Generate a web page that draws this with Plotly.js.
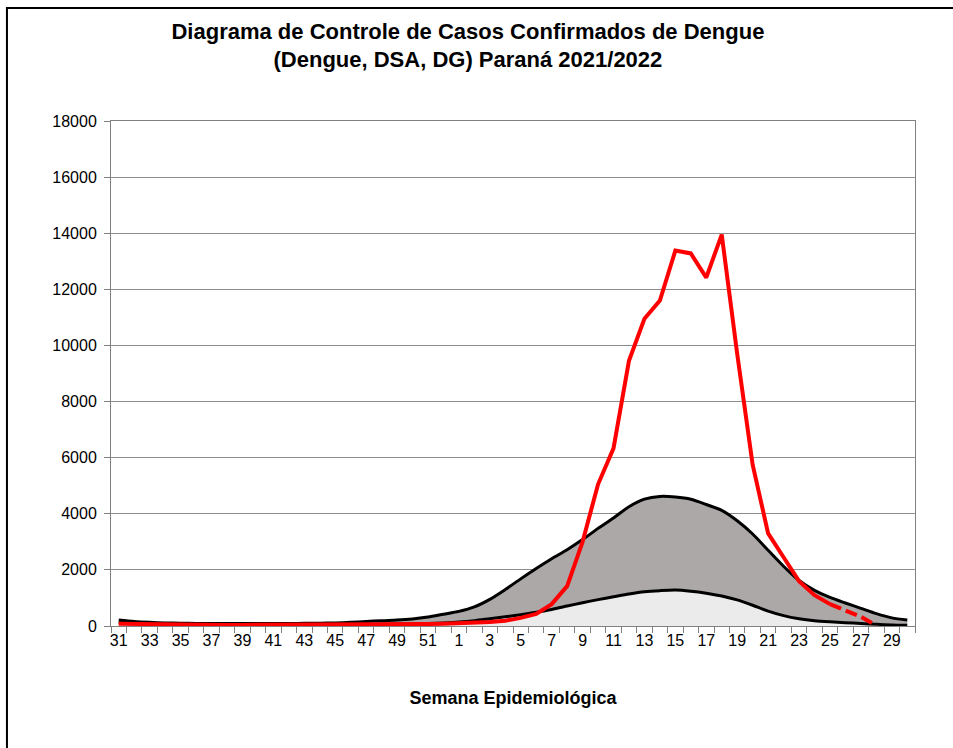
<!DOCTYPE html>
<html>
<head>
<meta charset="utf-8">
<script src="https://cdn.plot.ly/plotly-3.0.1.min.js"></script>
<style>html,body{margin:0;padding:0;background:#fff;}#chart{width:953px;height:748px;}</style>
</head>
<body>
<div id="chart"></div>
<script>
// Semana epidemiológica 31/2021 .. 30/2022
const weeks = ["31","32","33","34","35","36","37","38","39","40","41","42","43","44","45","46","47","48","49","50","51","52",
  "1","2","3","4","5","6","7","8","9","10","11","12","13","14","15","16","17","18","19","20","21","22","23","24","25","26","27","28","29","30"];

// Limite inferior (área clara)
const lowerLimit = [120,90,70,60,50,50,50,50,50,50,50,50,50,50,50,52,55,60,70,80,90,110,
  140,190,260,330,400,490,590,710,830,940,1040,1140,1220,1260,1280,1240,1170,1070,930,740,530,370,260,190,150,120,90,60,40,30];

// Limite superior (área escura)
const upperLimit = [210,160,130,110,100,90,90,90,90,90,90,90,95,100,110,130,160,190,210,250,320,420,
  520,680,950,1300,1680,2050,2400,2720,3080,3480,3850,4250,4520,4620,4600,4520,4330,4120,3750,3280,2700,2130,1620,1270,1020,820,630,440,290,210];

// Casos confirmados 2021/2022
const cases = [80,70,60,55,50,45,45,40,40,40,40,40,40,40,45,45,50,55,60,65,70,80,
  90,110,140,190,290,430,780,1420,3000,5050,6330,9450,10950,11600,13380,13280,12420,13950,9700,5750,3300,2450,1600,1100,780,560,330,20,null,null];

// Última semana com dados consolidados (linha contínua até aqui, tracejada depois)
const lastSolidWeek = "25";

const tickText = weeks.map((w, i) => (i % 2 === 0 ? w : ""));
const cut = weeks.indexOf(lastSolidWeek);
const solidCases = cases.map((v, i) => (i <= cut ? v : null));
const dashCases = cases.map((v, i) => (i >= cut ? v : null));

const FONT = "Liberation Sans, Arial, sans-serif";

const traces = [
  {
    x: weeks, y: lowerLimit, type: "scatter", mode: "lines",
    line: {color: "#000000", width: 3, shape: "spline", smoothing: 0.8},
    fill: "tozeroy", fillcolor: "#ebebeb", hoverinfo: "skip"
  },
  {
    x: weeks, y: upperLimit, type: "scatter", mode: "lines",
    line: {color: "#000000", width: 3, shape: "spline", smoothing: 0.8},
    fill: "tonexty", fillcolor: "#aca8a8", hoverinfo: "skip"
  },
  {
    x: weeks, y: solidCases, type: "scatter", mode: "lines",
    line: {color: "#ff0000", width: 4}, connectgaps: false
  },
  {
    x: weeks, y: dashCases, type: "scatter", mode: "lines",
    line: {color: "#ff0000", width: 4, dash: "12px,5px"}, connectgaps: false
  }
];

const layout = {
  width: 953, height: 748,
  margin: {l: 111, r: 38, t: 121, b: 122},
  paper_bgcolor: "#ffffff", plot_bgcolor: "#ffffff",
  showlegend: false,
  font: {family: FONT, size: 16, color: "#000000"},
  title: {
    text: "<b>Diagrama de Controle de Casos Confirmados de Dengue<br>(Dengue, DSA, DG) Paraná 2021/2022</b>",
    font: {family: FONT, size: 22, color: "#000000"},
    x: 0.491, xref: "container", xanchor: "center",
    y: 0.948, yref: "container", yanchor: "top"
  },
  xaxis: {
    type: "category",
    range: [-0.5, weeks.length - 0.5],
    tickmode: "array", tickvals: weeks, ticktext: tickText,
    tickson: "boundaries", ticks: "outside", ticklen: 6, tickcolor: "#808080",
    tickangle: 0,
    showline: true, linecolor: "#808080", linewidth: 1, mirror: true,
    showgrid: false, zeroline: false,
    tickfont: {family: FONT, size: 16, color: "#000000"},
    title: {text: "<b>Semana Epidemiológica</b>", standoff: 43,
      font: {family: FONT, size: 18, color: "#000000"}}
  },
  yaxis: {
    range: [0, 18000], dtick: 2000, tick0: 0, tickformat: "d",
    ticks: "outside", ticklen: 6, tickcolor: "#808080",
    ticklabelstandoff: 4,
    showline: true, linecolor: "#808080", linewidth: 1, mirror: true,
    showgrid: true, gridcolor: "#8c8c8c", gridwidth: 1,
    zeroline: false,
    tickfont: {family: FONT, size: 16, color: "#000000"}
  },
  shapes: [
    {type: "rect", xref: "paper", yref: "paper",
     x0: -0.1294, x1: 1.08, y0: -0.4, y1: 1.2238,
     line: {color: "#000000", width: 2}, fillcolor: "rgba(0,0,0,0)", layer: "above"}
  ]
};

Plotly.newPlot("chart", traces, layout, {displayModeBar: false, staticPlot: true});
</script>
</body>
</html>
